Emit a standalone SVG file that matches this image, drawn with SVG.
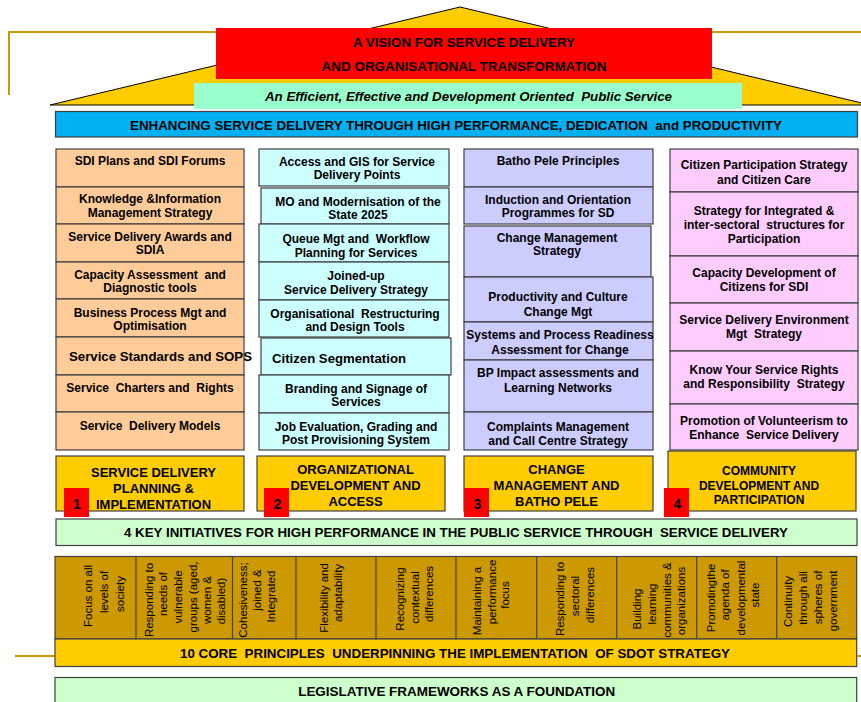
<svg xmlns="http://www.w3.org/2000/svg" width="861" height="702" viewBox="0 0 861 702">
  <style>
    text { font-family: "Liberation Sans", Arial, sans-serif; fill: #000; white-space: pre; }
    .b { font-weight: bold; font-size: 12px; text-anchor: middle; }
    .h { font-weight: bold; font-size: 13px; text-anchor: middle; }
    .hs { font-weight: bold; font-size: 12px; text-anchor: middle; }
    .big { font-weight: bold; font-size: 13px; text-anchor: start; }
    .num { font-weight: bold; font-size: 14px; text-anchor: middle; }
    .p { font-size: 11.5px; text-anchor: middle; }
    .edge { stroke: #404040; stroke-width: 1.2; }
    .c1 { fill: #FFCC99; }
    .c2 { fill: #CCFFFF; }
    .c3 { fill: #CCCCFF; }
    .c4 { fill: #FFCCFF; }
    .gold { fill: #FFCC00; }
    .mint { fill: #CCFFCC; }
    .red { fill: #FF0000; }
  </style>

  <!-- template frame lines -->
  <g id="frame" fill="none" stroke="#CC9900" stroke-width="2">
    <polyline points="9,95 9,32 861,32"/>
    <line x1="15" y1="656" x2="861" y2="656"/>
  </g>

  <!-- roof -->
  <g id="roof">
    <polygon points="460,7 50,105 870,105" fill="#FFCC00" stroke="#000" stroke-width="1"/>
  </g>

  <g id="vision">
    <rect x="216" y="28" width="496" height="51" fill="#FF0000"/>
    <text class="h" x="464" y="46.5" textLength="222" lengthAdjust="spacingAndGlyphs">A VISION FOR SERVICE DELIVERY</text>
    <text class="h" x="464" y="70.5" textLength="285" lengthAdjust="spacingAndGlyphs">AND ORGANISATIONAL TRANSFORMATION</text>
  </g>

  <g id="public-service">
    <rect x="194" y="83" width="548" height="26" fill="#99FFCC"/>
    <text class="h" x="468.5" y="101" font-style="italic" textLength="407" lengthAdjust="spacingAndGlyphs">An Efficient, Effective and Development Oriented  Public Service</text>
  </g>

  <g id="enhancing">
    <rect class="edge" x="55.5" y="111.5" width="802" height="25.5" fill="#00B0F0"/>
    <text class="h" x="456" y="129.5" textLength="652" lengthAdjust="spacingAndGlyphs">ENHANCING SERVICE DELIVERY THROUGH HIGH PERFORMANCE, DEDICATION  and PRODUCTIVITY</text>
  </g>

  <!-- column 1: service delivery planning -->
  <g id="col1">
    <g id="c1-1"><rect class="edge c1" x="56" y="149" width="188" height="38"/>
      <text class="b" x="150" y="165">SDI Plans and SDI Forums</text></g>
    <g id="c1-2"><rect class="edge c1" x="56" y="187" width="188" height="37"/>
      <text class="b" x="150" y="203">Knowledge &amp;Information</text>
      <text class="b" x="150" y="217">Management Strategy</text></g>
    <g id="c1-3"><rect class="edge c1" x="56" y="224" width="188" height="38"/>
      <text class="b" x="150" y="241">Service Delivery Awards and</text>
      <text class="b" x="150" y="254">SDIA</text></g>
    <g id="c1-4"><rect class="edge c1" x="56" y="262" width="188" height="37"/>
      <text class="b" x="150" y="279">Capacity Assessment  and</text>
      <text class="b" x="150" y="292">Diagnostic tools</text></g>
    <g id="c1-5"><rect class="edge c1" x="56" y="299" width="188" height="38"/>
      <text class="b" x="150" y="317">Business Process Mgt and</text>
      <text class="b" x="150" y="330">Optimisation</text></g>
    <g id="c1-6"><rect class="edge c1" x="56" y="337" width="188" height="38"/>
      <text class="big" x="69" y="361" textLength="183" lengthAdjust="spacingAndGlyphs">Service Standards and SOPS</text></g>
    <g id="c1-7"><rect class="edge c1" x="56" y="375" width="188" height="37"/>
      <text class="b" x="150" y="391.5">Service  Charters and  Rights</text></g>
    <g id="c1-8"><rect class="edge c1" x="56" y="412" width="188" height="38"/>
      <text class="b" x="150" y="430">Service  Delivery Models</text></g>
  </g>

  <!-- column 2: organisational development -->
  <g id="col2">
    <g id="c2-1"><rect class="edge c2" x="259" y="149" width="190" height="37"/>
      <text class="b" x="357" y="165.5">Access and GIS for Service</text>
      <text class="b" x="357" y="179">Delivery Points</text></g>
    <g id="c2-2"><rect class="edge c2" x="261" y="188" width="188" height="36"/>
      <text class="b" x="358" y="206">MO and Modernisation of the</text>
      <text class="b" x="358" y="219">State 2025</text></g>
    <g id="c2-3"><rect class="edge c2" x="259" y="224" width="190" height="38"/>
      <text class="b" x="356" y="243">Queue Mgt and  Workflow</text>
      <text class="b" x="356" y="256.5">Planning for Services</text></g>
    <g id="c2-4"><rect class="edge c2" x="259" y="262" width="190" height="38"/>
      <text class="b" x="356" y="280">Joined-up</text>
      <text class="b" x="356" y="293.5">Service Delivery Strategy</text></g>
    <g id="c2-5"><rect class="edge c2" x="259" y="300" width="190" height="37"/>
      <text class="b" x="355" y="318">Organisational  Restructuring</text>
      <text class="b" x="355" y="331">and Design Tools</text></g>
    <g id="c2-6"><rect class="edge c2" x="261" y="338" width="190" height="37"/>
      <text class="big" x="272" y="362.5" textLength="134" lengthAdjust="spacingAndGlyphs">Citizen Segmentation</text></g>
    <g id="c2-7"><rect class="edge c2" x="259" y="375" width="190" height="38"/>
      <text class="b" x="356" y="392.5">Branding and Signage of</text>
      <text class="b" x="356" y="406">Services</text></g>
    <g id="c2-8"><rect class="edge c2" x="259" y="413" width="190" height="37"/>
      <text class="b" x="356" y="430.5">Job Evaluation, Grading and</text>
      <text class="b" x="356" y="444">Post Provisioning System</text></g>
  </g>

  <!-- column 3: change management -->
  <g id="col3">
    <g id="c3-1"><rect class="edge c3" x="464" y="149" width="189" height="38"/>
      <text class="b" x="558" y="165">Batho Pele Principles</text></g>
    <g id="c3-2"><rect class="edge c3" x="464" y="187" width="189" height="37"/>
      <text class="b" x="558" y="203.5">Induction and Orientation</text>
      <text class="b" x="558" y="217">Programmes for SD</text></g>
    <g id="c3-3"><rect class="edge c3" x="464" y="226" width="187" height="51"/>
      <text class="b" x="557" y="241.5">Change Management</text>
      <text class="b" x="557" y="255">Strategy</text></g>
    <g id="c3-4"><rect class="edge c3" x="464" y="277" width="189" height="45"/>
      <text class="b" x="558" y="301">Productivity and Culture</text>
      <text class="b" x="558" y="316">Change Mgt</text></g>
    <g id="c3-5"><rect class="edge c3" x="464" y="322" width="189" height="38"/>
      <text class="b" x="560" y="338.5">Systems and Process Readiness</text>
      <text class="b" x="560" y="354">Assessment for Change</text></g>
    <g id="c3-6"><rect class="edge c3" x="464" y="360" width="189" height="52"/>
      <text class="b" x="558" y="377">BP Impact assessments and</text>
      <text class="b" x="558" y="391.5">Learning Networks</text></g>
    <g id="c3-7"><rect class="edge c3" x="464" y="412" width="189" height="38"/>
      <text class="b" x="558" y="430.5">Complaints Management</text>
      <text class="b" x="558" y="444.5">and Call Centre Strategy</text></g>
  </g>

  <!-- column 4: community development -->
  <g id="col4">
    <g id="c4-1"><rect class="edge c4" x="670" y="149" width="188" height="43"/>
      <text class="b" x="764" y="169">Citizen Participation Strategy</text>
      <text class="b" x="764" y="183.5">and Citizen Care</text></g>
    <g id="c4-2"><rect class="edge c4" x="670" y="192" width="188" height="64"/>
      <text class="b" x="764" y="215">Strategy for Integrated &amp;</text>
      <text class="b" x="764" y="229">inter-sectoral  structures for</text>
      <text class="b" x="764" y="243">Participation</text></g>
    <g id="c4-3"><rect class="edge c4" x="670" y="256" width="188" height="47"/>
      <text class="b" x="764" y="277">Capacity Development of</text>
      <text class="b" x="764" y="291">Citizens for SDI</text></g>
    <g id="c4-4"><rect class="edge c4" x="670" y="303" width="188" height="48"/>
      <text class="b" x="764" y="324">Service Delivery Environment</text>
      <text class="b" x="764" y="338">Mgt  Strategy</text></g>
    <g id="c4-5"><rect class="edge c4" x="670" y="351" width="188" height="53"/>
      <text class="b" x="764" y="373.5">Know Your Service Rights</text>
      <text class="b" x="764" y="387.5">and Responsibility  Strategy</text></g>
    <g id="c4-6"><rect class="edge c4" x="670" y="404" width="188" height="46"/>
      <text class="b" x="764" y="425">Promotion of Volunteerism to</text>
      <text class="b" x="764" y="439">Enhance  Service Delivery</text></g>
  </g>

  <!-- four key initiative headers -->
  <g id="init1">
    <rect class="edge gold" x="56" y="456" width="188" height="55"/>
    <text class="h" x="153.5" y="477.3">SERVICE DELIVERY</text>
    <text class="h" x="153.5" y="493.3">PLANNING &amp;</text>
    <text class="h" x="153.5" y="509.3">IMPLEMENTATION</text>
    <rect class="red" x="64" y="488" width="25" height="29"/>
    <text class="num" x="77" y="509">1</text>
  </g>
  <g id="init2">
    <rect class="edge gold" x="257" y="456" width="188" height="55"/>
    <text class="h" x="355.5" y="474.3">ORGANIZATIONAL</text>
    <text class="h" x="355.5" y="490.3">DEVELOPMENT AND</text>
    <text class="h" x="355.5" y="506">ACCESS</text>
    <rect class="red" x="264" y="488" width="25" height="29"/>
    <text class="num" x="277.5" y="509">2</text>
  </g>
  <g id="init3">
    <rect class="edge gold" x="464" y="456" width="189" height="55"/>
    <text class="h" x="556.5" y="474.3">CHANGE</text>
    <text class="h" x="556.5" y="490.3">MANAGEMENT AND</text>
    <text class="h" x="556.5" y="506">BATHO PELE</text>
    <rect class="red" x="464" y="488" width="25" height="29"/>
    <text class="num" x="477.5" y="509">3</text>
  </g>
  <g id="init4">
    <rect class="edge gold" x="668" y="451" width="188" height="60"/>
    <text class="hs" x="759" y="475.3">COMMUNITY</text>
    <text class="hs" x="759" y="489.8">DEVELOPMENT AND</text>
    <text class="hs" x="759" y="504">PARTICIPATION</text>
    <rect class="red" x="664" y="488" width="25" height="29"/>
    <text class="num" x="677.5" y="509">4</text>
  </g>

  <g id="key-initiatives">
    <rect class="edge mint" x="56" y="519" width="801" height="26.5"/>
    <text class="h" x="456" y="537.4" textLength="664" lengthAdjust="spacingAndGlyphs">4 KEY INITIATIVES FOR HIGH PERFORMANCE IN THE PUBLIC SERVICE THROUGH  SERVICE DELIVERY</text>
  </g>

  <!-- ten core principles -->
  <g id="principles">
    <rect class="edge" x="55" y="556.5" width="801.7" height="82.5" fill="#CC9900"/>
    <g class="edge">
      <line x1="136" y1="556.5" x2="136" y2="639"/>
      <line x1="232.5" y1="556.5" x2="232.5" y2="639"/>
      <line x1="296" y1="556.5" x2="296" y2="639"/>
      <line x1="376" y1="556.5" x2="376" y2="639"/>
      <line x1="456" y1="556.5" x2="456" y2="639"/>
      <line x1="536.7" y1="556.5" x2="536.7" y2="639"/>
      <line x1="616.7" y1="556.5" x2="616.7" y2="639"/>
      <line x1="696.7" y1="556.5" x2="696.7" y2="639"/>
      <line x1="776.7" y1="556.5" x2="776.7" y2="639"/>
    </g>
    <g id="pr1">
      <text class="p" transform="translate(92,596) rotate(-90)">Focus on all</text>
      <text class="p" transform="translate(108,592) rotate(-90)">levels of</text>
      <text class="p" transform="translate(123.5,594) rotate(-90)">society</text>
    </g>
    <g id="pr2">
      <text class="p" transform="translate(152.5,600) rotate(-90)">Responding to</text>
      <text class="p" transform="translate(167,594) rotate(-90)">needs of</text>
      <text class="p" transform="translate(181.5,597) rotate(-90)">vulnerable</text>
      <text class="p" transform="translate(196.5,597) rotate(-90)">groups (aged,</text>
      <text class="p" transform="translate(210.5,600) rotate(-90)">women &amp;</text>
      <text class="p" transform="translate(224.5,601) rotate(-90)">disabled)</text>
    </g>
    <g id="pr3">
      <text class="p" transform="translate(247,600) rotate(-90)">Cohesiveness;</text>
      <text class="p" transform="translate(260.5,590) rotate(-90)">joined &amp;</text>
      <text class="p" transform="translate(275,596.5) rotate(-90)">Integrated</text>
    </g>
    <g id="pr4">
      <text class="p" transform="translate(328,598) rotate(-90)">Flexibility and</text>
      <text class="p" transform="translate(342,593) rotate(-90)">adaptability</text>
    </g>
    <g id="pr5">
      <text class="p" transform="translate(403.5,599) rotate(-90)">Recognizing</text>
      <text class="p" transform="translate(418.5,597.5) rotate(-90)">contextual</text>
      <text class="p" transform="translate(432.5,594) rotate(-90)">differences</text>
    </g>
    <g id="pr6">
      <text class="p" transform="translate(481,601) rotate(-90)">Maintaining a</text>
      <text class="p" transform="translate(496,592) rotate(-90)">performance</text>
      <text class="p" transform="translate(508.5,595) rotate(-90)">focus</text>
    </g>
    <g id="pr7">
      <text class="p" transform="translate(563.5,599) rotate(-90)">Responding to</text>
      <text class="p" transform="translate(578.5,596) rotate(-90)">sectoral</text>
      <text class="p" transform="translate(593.5,595) rotate(-90)">differences</text>
    </g>
    <g id="pr8">
      <text class="p" transform="translate(641,609) rotate(-90)">Building</text>
      <text class="p" transform="translate(655.5,604) rotate(-90)">learning</text>
      <text class="p" transform="translate(670.5,600) rotate(-90)">communities &amp;</text>
      <text class="p" transform="translate(685,601) rotate(-90)">organizations</text>
    </g>
    <g id="pr9">
      <text class="p" transform="translate(715,598) rotate(-90)">Promotingthe</text>
      <text class="p" transform="translate(729,595) rotate(-90)">agenda of</text>
      <text class="p" transform="translate(744.5,598) rotate(-90)">developmental</text>
      <text class="p" transform="translate(758.5,595) rotate(-90)">state</text>
    </g>
    <g id="pr10">
      <text class="p" transform="translate(791.5,601.5) rotate(-90)">Continuity</text>
      <text class="p" transform="translate(806.5,598) rotate(-90)">through all</text>
      <text class="p" transform="translate(821.5,597.5) rotate(-90)">spheres of</text>
      <text class="p" transform="translate(836.5,601) rotate(-90)">government</text>
    </g>
  </g>

  <g id="core-principles">
    <rect class="edge gold" x="55" y="639" width="801.7" height="27.5"/>
    <text class="h" x="455" y="658" textLength="550" lengthAdjust="spacingAndGlyphs">10 CORE  PRINCIPLES  UNDERPINNING THE IMPLEMENTATION  OF SDOT STRATEGY</text>
  </g>

  <g id="legislative">
    <rect class="edge mint" x="55" y="677.5" width="801.7" height="30"/>
    <text class="h" x="456.7" y="695.5" textLength="317" lengthAdjust="spacingAndGlyphs">LEGISLATIVE FRAMEWORKS AS A FOUNDATION</text>
  </g>
</svg>
